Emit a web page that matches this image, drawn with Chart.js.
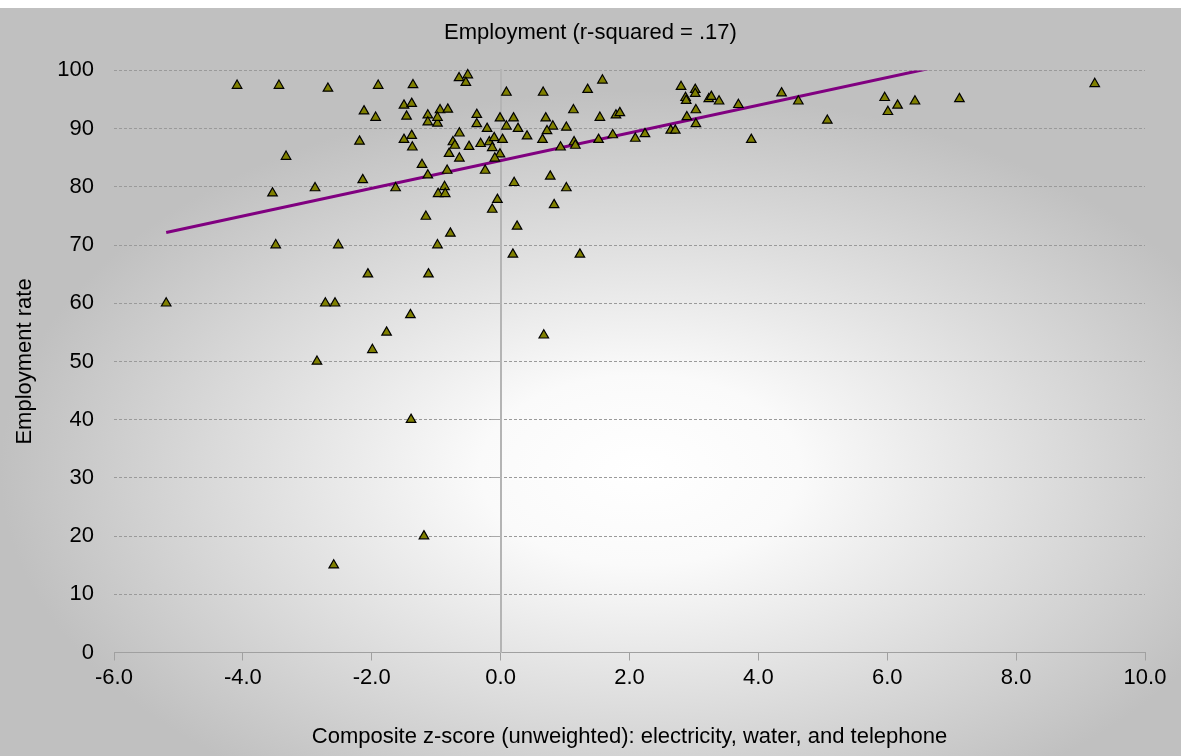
<!DOCTYPE html>
<html>
<head>
<meta charset="utf-8">
<script src="https://cdn.jsdelivr.net/npm/chart.js@4.4.1/dist/chart.umd.min.js"></script>
<style>
  html, body { margin: 0; padding: 0; background: #ffffff; }
  #wrap { width: 1181px; height: 756px; position: relative; }
</style>
</head>
<body>
<div id="wrap"><canvas id="chart"></canvas></div>
<script>
// Composite z-score (unweighted) per community
const zScores = [
  -5.19, -4.09, -3.44, -2.68, -1.90, -2.12, -1.94, -2.19, -3.33, -2.14,
  -2.88, -3.54, -3.49, -2.52, -1.63, -2.72, -2.57, -0.98, -0.78, 0.19,
  -2.06, -1.12, -1.40, -1.77, -1.99, -2.85, -1.39, -1.19, -2.59,
  -1.36, -0.645, -0.51, -0.54, 0.09, -1.50, -1.38, -1.46, -1.13, -0.94,
  -0.82, -1.13, -0.98, -0.98, -0.37, -0.37, -0.21, -0.01, 0.09, 0.20,
  0.27, 0.41, -1.50, -1.38, -1.37, -0.64, -0.74, -0.71, -0.80, -0.64,
  -0.49, -0.31, -0.175, -0.10, 0.03, -0.13, -0.01, -0.09, -1.22, -0.83,
  -0.24, -1.13, -0.87, -0.97, -0.86, 0.21, -0.05, -0.13, -1.16, 0.255,
  0.66, 1.35, 1.58, 1.13, 0.70, 0.81, 0.72, 1.02, 0.65, 0.93,
  1.14, 1.16, 1.54, 1.79, 1.85, 1.52, 1.74, 2.09, 2.24, 0.77,
  1.02, 0.83, 1.23, 0.67,
  2.80, 3.02, 3.02, 2.87, 2.88, 3.23, 3.27, 3.39, 3.03, 2.89,
  3.03, 3.69, 2.64, 2.71, 3.89, 4.36, 4.62, 5.07, 5.96, 6.01,
  6.16, 6.43, 7.12, 9.22
];

// Employment rate (%) for the same communities
const employmentRates = [
  60, 97.4, 97.4, 96.9, 97.4, 93.0, 91.9, 87.8, 85.2, 81.2,
  79.8, 78.9, 70, 70, 79.8, 60, 60, 70, 72, 68.4,
  65, 65, 58, 55, 52, 50, 40, 20, 15,
  97.5, 98.7, 99.2, 97.9, 96.2, 94.0, 94.3, 92.1, 92.3, 93.2,
  93.3, 91.1, 90.9, 91.9, 92.4, 90.8, 90.0, 91.8, 90.4, 91.8,
  90.0, 88.7, 88.1, 88.8, 86.8, 89.2, 87.7, 87.1, 85.7, 84.9,
  86.9, 87.4, 87.7, 88.4, 88.1, 86.7, 85.6, 84.9, 83.8, 82.8,
  82.8, 82.0, 80.0, 78.8, 78.8, 80.7, 77.8, 76.1, 74.9, 73.2,
  96.2, 96.7, 98.3, 93.2, 91.8, 90.4, 89.6, 90.2, 88.1, 86.8,
  87.7, 87.1, 91.9, 92.3, 92.7, 88.1, 88.9, 88.3, 89.1, 81.8,
  79.8, 76.9, 68.4, 54.5,
  97.2, 96.7, 96.0, 95.3, 94.8, 95.1, 95.5, 94.7, 93.2, 92.0,
  90.8, 94.1, 89.7, 89.7, 88.1, 96.1, 94.7, 91.4, 95.3, 92.9,
  94.0, 94.7, 95.1, 97.7
];

// Linear trend (r-squared = .17)
const trendSlope = 2.38;
const trendIntercept = 84.5;

const xTickValues = [-6, -4, -2, 0, 2, 4, 6, 8, 10];
const yTickValues = [0, 10, 20, 30, 40, 50, 60, 70, 80, 90, 100];

const chartTitle = 'Employment (r-squared = .17)';
const xAxisTitle = 'Composite z-score (unweighted): electricity, water, and telephone';
const yAxisTitle = 'Employment rate';

const FONT = "'Liberation Sans Narrow', 'Arial Narrow', 'Liberation Sans', Arial, sans-serif";

const points = zScores.map((x, i) => ({ x: x, y: employmentRates[i] }));
const xMin = Math.min(...zScores);
const xMax = Math.max(...zScores);
const trendPoints = [xMin, xMax].map(x => ({ x: x, y: trendIntercept + trendSlope * x }));

// Grey panel with a soft light centre behind the whole chart
const panelBackground = {
  id: 'panelBackground',
  beforeDraw(chart) {
    const ctx = chart.ctx;
    const w = chart.width, h = chart.height;
    const top = 8;
    ctx.save();
    ctx.fillStyle = '#ffffff';
    ctx.fillRect(0, 0, w, h);
    const cx = 640, cy = 470, rx = 640, ry = 380;
    const k = ry / rx;
    ctx.translate(cx, cy);
    ctx.scale(1, k);
    const g = ctx.createRadialGradient(0, 0, 0, 0, 0, rx);
    g.addColorStop(0, '#ffffff');
    g.addColorStop(0.25, '#fafafa');
    g.addColorStop(1, '#c0c0c0');
    ctx.fillStyle = g;
    ctx.fillRect(-cx, (top - cy) / k, w, (h - top) / k);
    ctx.restore();
  }
};

const tickFont = { family: FONT, size: 22 };

new Chart(document.getElementById('chart'), {
  type: 'scatter',
  data: {
    datasets: [
      {
        label: 'Employment rate',
        data: points,
        pointStyle: 'triangle',
        pointRadius: 5.5,
        pointHoverRadius: 5.5,
        pointBackgroundColor: '#808000',
        pointBorderColor: '#000000',
        pointBorderWidth: 1.2,
        clip: false
      },
      {
        type: 'line',
        label: 'Trend',
        data: trendPoints,
        borderColor: '#800080',
        borderWidth: 3,
        pointRadius: 0,
        fill: false,
        clip: 0
      }
    ]
  },
  options: {
    responsive: true,
    maintainAspectRatio: false,
    animation: false,
    layout: { padding: { top: 8, right: 0, bottom: 0, left: 0 } },
    plugins: {
      legend: { display: false },
      tooltip: { enabled: false },
      title: {
        display: true,
        text: chartTitle,
        color: '#000000',
        font: { family: FONT, size: 22, weight: 'normal' },
        padding: { top: 12, bottom: 24 }
      }
    },
    scales: {
      x: {
        type: 'linear',
        position: 'bottom',
        min: -6,
        max: 10,
        afterBuildTicks(scale) { scale.ticks = xTickValues.map(v => ({ value: v })); },
        afterFit(scale) { scale.height = 103.5; },
        ticks: {
          color: '#000000',
          font: tickFont,
          padding: 4,
          maxRotation: 0,
          callback: v => Number(v).toFixed(1)
        },
        grid: {
          drawOnChartArea: false,
          drawTicks: true,
          tickLength: 8,
          color: '#a0a0a0'
        },
        border: { display: true, color: '#a0a0a0', width: 1 },
        title: {
          display: true,
          text: xAxisTitle,
          color: '#000000',
          font: { family: FONT, size: 22 },
          padding: { top: 0, bottom: 6 }
        }
      },
      y: {
        type: 'linear',
        position: 'left',
        min: 0,
        max: 100,
        afterBuildTicks(scale) { scale.ticks = yTickValues.map(v => ({ value: v })); },
        afterFit(scale) { scale.width = 114; },
        ticks: {
          color: '#000000',
          font: tickFont,
          padding: 20
        },
        grid: {
          drawOnChartArea: true,
          drawTicks: false,
          color: '#9a9a9a',
          lineWidth: 1
        },
        border: { display: false, dash: [3, 2] },
        title: {
          display: true,
          text: yAxisTitle,
          color: '#000000',
          font: { family: FONT, size: 22 },
          padding: { top: 12, bottom: 0 }
        }
      },
      yZero: {
        type: 'linear',
        position: { x: 0 },
        min: 0,
        max: 100,
        afterBuildTicks(scale) { scale.ticks = yTickValues.map(v => ({ value: v })); },
        ticks: { display: false },
        grid: {
          drawOnChartArea: false,
          drawTicks: true,
          tickLength: 9,
          color: '#a8a8a8'
        },
        border: { display: true, color: '#b4b4b4', width: 2 }
      },
      // empty right-hand margin so the title stays centred on the whole panel
      yRightMargin: {
        type: 'linear',
        position: 'right',
        min: 0,
        max: 100,
        afterFit(scale) { scale.width = 36; },
        ticks: { display: false },
        grid: { display: false },
        border: { display: false }
      }
    }
  },
  plugins: [panelBackground]
});
</script>
</body>
</html>
